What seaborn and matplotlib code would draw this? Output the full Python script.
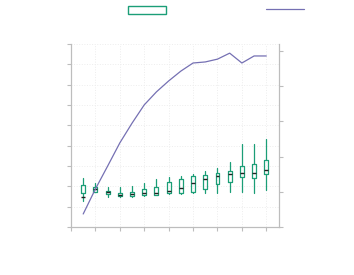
import matplotlib
matplotlib.use('Agg')
import matplotlib.pyplot as plt
from matplotlib.patches import Patch
from matplotlib.lines import Line2D
import seaborn as sns
import pandas as pd

# box stats per step (left axis)
steps = list(range(1, 17))
whis_lo = [1.29, 1.70, 1.49, 1.50, 1.49, 1.52, 1.56, 1.61, 1.62, 1.69, 1.66, 1.69, 1.72, 1.74, 1.69, 1.82]
q1 = [1.66, 1.74, 1.62, 1.52, 1.52, 1.56, 1.59, 1.66, 1.69, 1.72, 1.85, 2.12, 2.23, 2.44, 2.40, 2.59]
med = [1.48, 1.85, 1.72, 1.57, 1.62, 1.66, 1.69, 1.77, 1.92, 2.18, 2.35, 2.51, 2.59, 2.67, 2.64, 2.80]
q3 = [2.07, 1.98, 1.79, 1.69, 1.74, 1.85, 1.95, 2.23, 2.35, 2.51, 2.56, 2.64, 2.75, 3.00, 3.10, 3.30]
whis_hi = [2.40, 2.15, 1.98, 1.98, 2.02, 2.18, 2.35, 2.47, 2.51, 2.61, 2.77, 2.92, 3.20, 4.07, 4.08, 4.31]

# line series (right axis)
line_vals = [0.37, 1.08, 1.73, 2.39, 2.95, 3.47, 3.84, 4.15, 4.43, 4.66, 4.69, 4.77, 4.94, 4.66, 4.86, 4.86]

green = '#1b9e77'
purple = '#7570b3'
gray = '#bdbdbd'

sns.set_style('white')

fig = plt.figure(figsize=(3.54, 2.75), dpi=100)
ax = fig.add_axes([71 / 354, 48 / 275, 207.5 / 354, 183 / 275])

stats = [dict(whislo=a, q1=b, med=c, q3=d, whishi=e)
         for a, b, c, d, e in zip(whis_lo, q1, med, q3, whis_hi)]
ax.bxp(stats, positions=steps, widths=0.32, showfliers=False, showcaps=False,
       boxprops=dict(color=green, lw=0.9),
       whiskerprops=dict(color=green, lw=0.9),
       medianprops=dict(color='#222222', lw=1),
       manage_ticks=False)

ax.set_xlim(0, 17)
ax.set_ylim(0, 9)
ax.set_xticks(range(0, 17, 2))
ax.set_yticks(range(0, 10))
ax.set_xticklabels([])
ax.set_yticklabels([])
ax.grid(True, color='#ededed', ls=':', lw=0.7)
ax.set_axisbelow(True)

ax2 = ax.twinx()
df = pd.DataFrame({'step': steps, 'value': line_vals})
sns.lineplot(data=df, x='step', y='value', ax=ax2, color=purple, lw=0.9)
ax2.set_ylim(0, 5.2)
ax2.set_yticks(range(0, 6))
ax2.set_yticklabels([])
ax2.set_xlabel('')
ax2.set_ylabel('')
ax.set_xlabel('')

for a in (ax, ax2):
    a.spines['top'].set_visible(False)
    for s in ('left', 'right', 'bottom'):
        a.spines[s].set_color(gray)
        a.spines[s].set_linewidth(0.8)
    a.tick_params(length=3, width=0.8, color=gray, direction='out')
ax.tick_params(left=True, bottom=True)
ax2.tick_params(right=True)

fig.legend(handles=[Patch(facecolor='white', edgecolor=green, lw=1)], labels=[''],
           loc='center', bbox_to_anchor=(147 / 354, 1 - 10.5 / 275), frameon=False,
           handlelength=2.75, handleheight=0.5, handletextpad=0, borderpad=0)
fig.legend(handles=[Line2D([], [], color=purple, lw=0.9)], labels=[''],
           loc='center', bbox_to_anchor=(285 / 354, 1 - 10 / 275), frameon=False,
           handlelength=2.75, handletextpad=0, borderpad=0)

fig.savefig('out.png', dpi=100)
